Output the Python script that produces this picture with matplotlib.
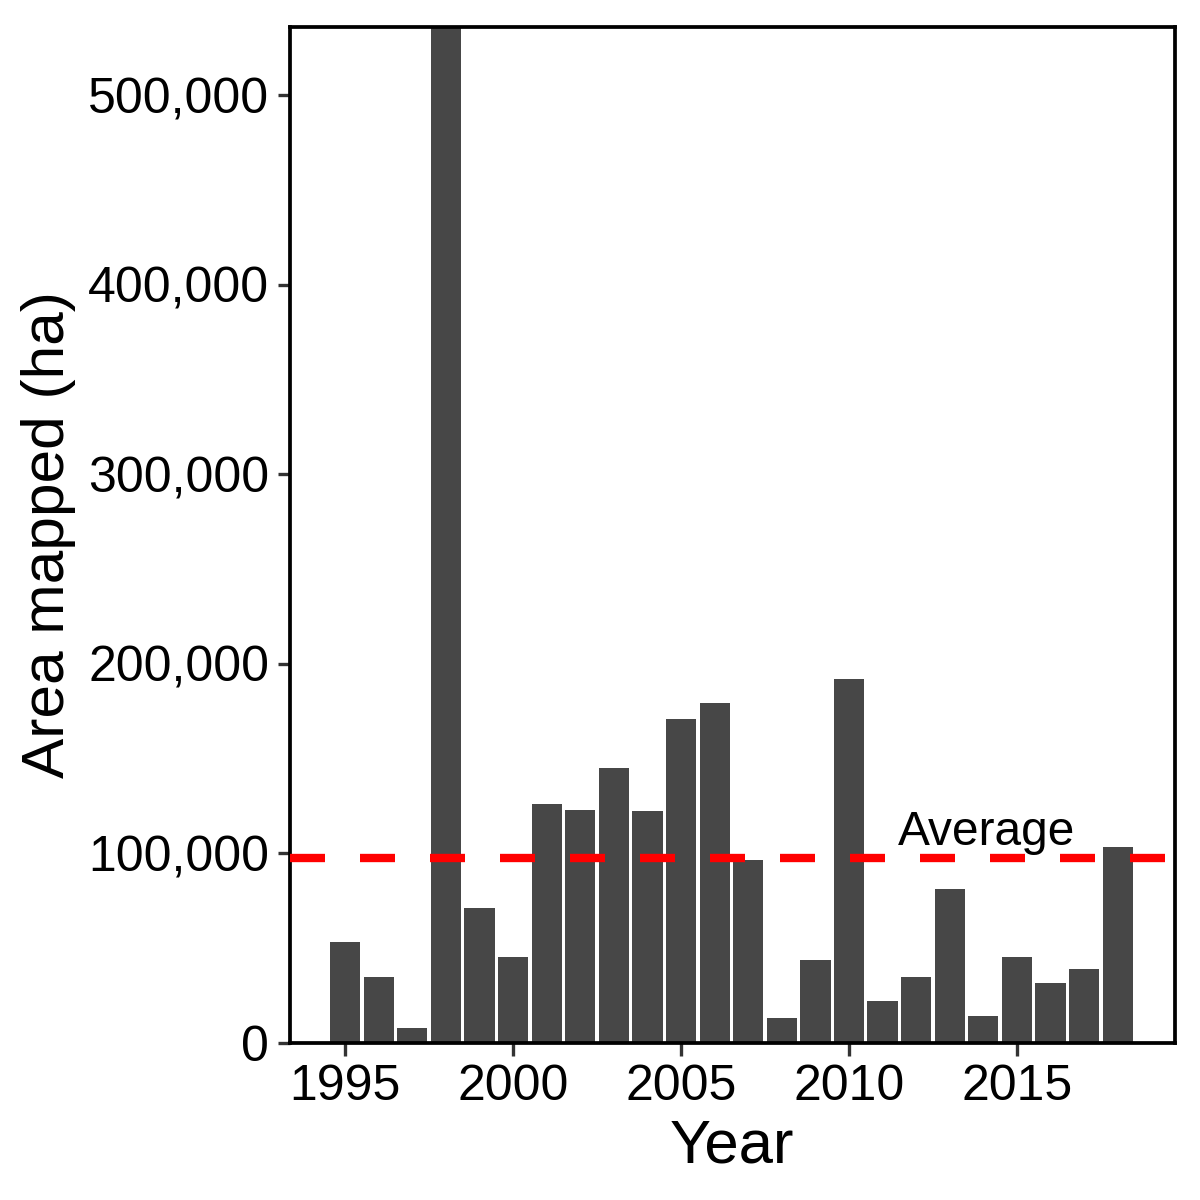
import numpy as np
import matplotlib
matplotlib.use("Agg")
import matplotlib.pyplot as plt
from matplotlib.ticker import FuncFormatter

plt.rcParams['font.family'] = ['Liberation Sans', 'DejaVu Sans']

# Area mapped per year (ha)
years = [1995, 1996, 1997, 1998, 1999, 2000, 2001, 2002, 2003, 2004, 2005, 2006,
         2007, 2008, 2009, 2010, 2011, 2012, 2013, 2014, 2015, 2016, 2017, 2018]
area = [53300, 34800, 7900, 600000, 71200, 45400, 126100, 123000, 145100, 122400,
        171000, 179400, 96600, 13200, 43800, 192100, 22200, 34800, 81300, 14200,
        45400, 31700, 39100, 103400]
average = 97600
x_ticks = [1995, 2000, 2005, 2010, 2015]

fig = plt.figure(figsize=(4, 4), dpi=300)
ax = fig.add_axes([0.2417, 0.1308, 0.979 - 0.2417, 0.9775 - 0.1308])

ax.bar(years, area, width=0.9, color='#474747', zorder=2)
ax.axhline(average, color='#ff0000', linestyle=(0, (4.2, 4.2)), linewidth=2.0, zorder=3)
ax.text(2014.1, average + 1800, "Average", fontsize=11.5, ha='center', va='bottom', zorder=4)

ax.set_xlim(1993.36, 2019.7)
ax.set_ylim(0, 536000)
ax.set_xticks(x_ticks)
ax.set_yticks([0, 100000, 200000, 300000, 400000, 500000])
ax.yaxis.set_major_formatter(FuncFormatter(lambda v, p: f"{int(v):,}"))

for s in ax.spines.values():
    s.set_linewidth(0.9)
    s.set_color('black')
ax.tick_params(axis='both', length=3, width=0.8, color='#333333', labelsize=12, labelcolor='black', pad=2)

ax.set_xlabel("Year", fontsize=14.8, labelpad=2)
ax.set_ylabel("Area mapped (ha)", fontsize=14.5, labelpad=3)

fig.savefig("out.png", dpi=300)
